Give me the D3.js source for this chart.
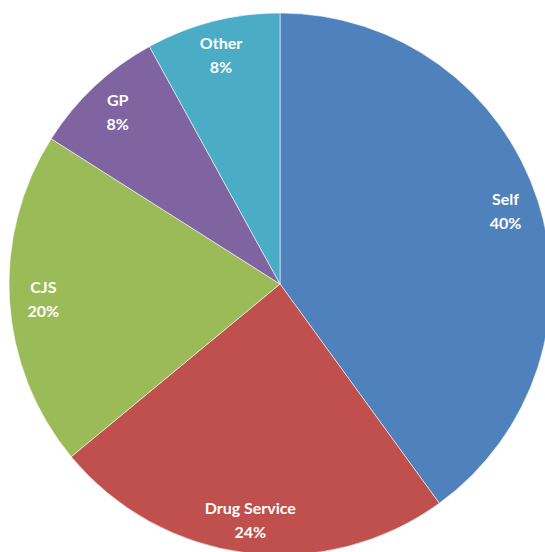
<!DOCTYPE html>
<html>
<head>
<meta charset="utf-8">
<script src="https://cdn.jsdelivr.net/npm/d3@7"></script>
<style>
  html, body { margin: 0; padding: 0; background: #fff; }
  svg { display: block; }
</style>
</head>
<body>
<svg id="chart" width="545" height="552"></svg>
<script>
// Referral sources, share of total (%)
const categories = ["Self", "Drug Service", "CJS", "GP", "Other"];
const values = [40, 24, 20, 8, 8];
const colors = ["#4F81BD", "#C0504D", "#9BBB59", "#8064A2", "#4BACC6"];

const width = 545, height = 552;
const cx = 280, cy = 284, radius = 271;

const svg = d3.select("#chart");
const g = svg.append("g").attr("transform", `translate(${cx},${cy})`);

const data = categories.map((c, i) => ({ name: c, value: values[i], color: colors[i] }));

const pie = d3.pie().value(d => d.value).sort(null);
const arcs = pie(data);

const arc = d3.arc().innerRadius(0).outerRadius(radius);
const labelArc = d3.arc().innerRadius(radius * 0.875).outerRadius(radius * 0.875);

g.selectAll("path.slice")
  .data(arcs)
  .join("path")
  .attr("class", "slice")
  .attr("d", arc)
  .attr("fill", d => d.data.color)
  .attr("stroke", "rgba(255,255,255,0.55)")
  .attr("stroke-width", 1);

const fmt = d => Math.round(d.value / d3.sum(values) * 100) + "%";

const labels = g.selectAll("text.label")
  .data(arcs)
  .join("text")
  .attr("class", "label")
  .attr("transform", d => `translate(${labelArc.centroid(d)})`)
  .attr("text-anchor", "middle")
  .attr("fill", "#fff")
  .attr("font-family", "Lato, 'Open Sans', sans-serif")
  .attr("font-weight", "bold")
  .attr("font-size", "16px");

labels.append("tspan")
  .attr("x", 0)
  .attr("y", -12)
  .attr("dominant-baseline", "central")
  .text(d => d.data.name);

labels.append("tspan")
  .attr("x", 0)
  .attr("y", 12)
  .attr("dominant-baseline", "central")
  .text(d => fmt(d.data));
</script>
</body>
</html>
